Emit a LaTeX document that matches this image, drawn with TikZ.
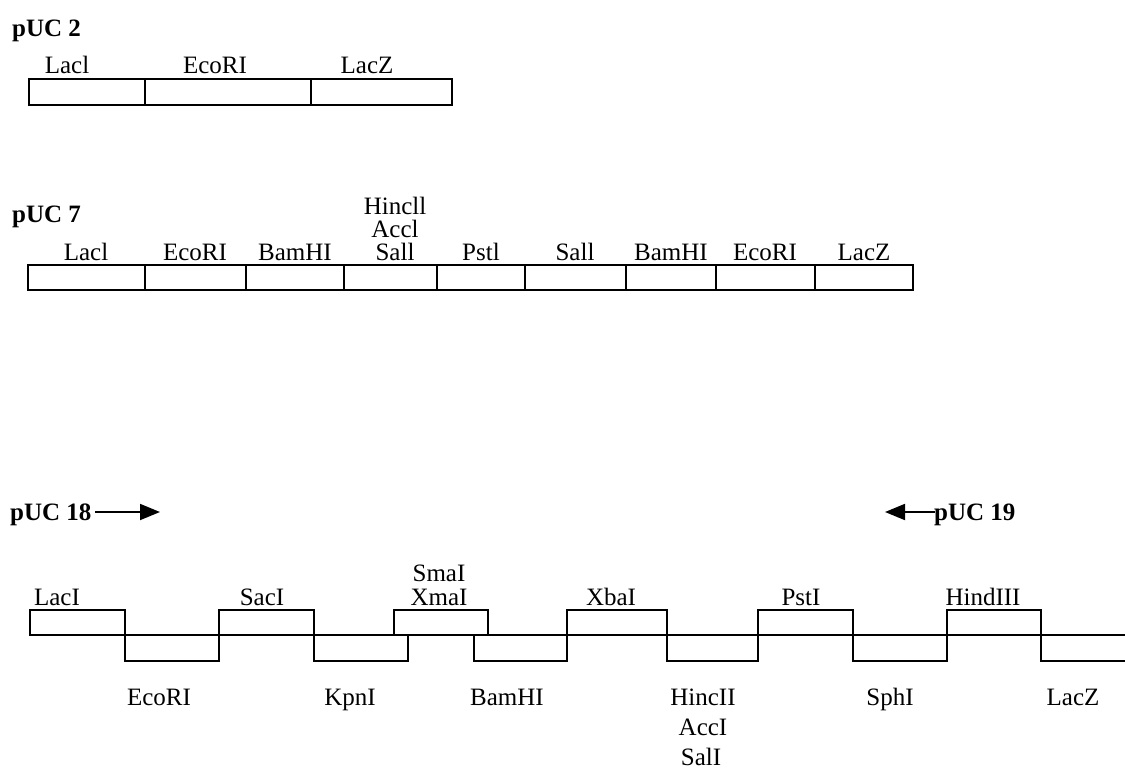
\documentclass[tikz,border=0pt]{standalone}
\usepackage{fontspec}
\setmainfont{Liberation Serif}
\usetikzlibrary{arrows.meta}
\tikzset{
  lab/.style={font=\fontsize{25}{29}\selectfont, anchor=base, inner sep=0pt, text height=17pt, text depth=5pt},
  ttl/.style={font=\fontsize{25}{29}\selectfont\bfseries, anchor=base west, inner sep=0pt},
  seg/.style={draw, line width=1.8pt},
  wave/.style={line width=1.8pt},
  bigarrow/.style={line width=1.8pt, -{Triangle[length=20pt,width=16pt]}}
}
\begin{document}
\begin{tikzpicture}[x=1pt,y=-1pt]
\useasboundingbox (0,0) rectangle (1125,769);
% ---------- pUC 2 ----------
\node[ttl] (t2) at (12,36) {pUC 2};
\draw[seg] (29,79) rectangle (452,105);
\draw[seg] (145,79) -- (145,105);
\draw[seg] (311,79) -- (311,105);
\node[lab] (a1) at (67,73) {Lacl};
\node[lab] (a2) at (215,73) {EcoRI};
\node[lab] (a3) at (367,73) {LacZ};
% ---------- pUC 7 ----------
\node[ttl] (t7) at (12,222) {pUC 7};
\draw[seg] (28,265) rectangle (913,290);
\foreach \x in {145,246,344,437,525,626,716,815} \draw[seg] (\x,265) -- (\x,290);
\node[lab] (b1) at (86,260) {Lacl};
\node[lab] (b2) at (195,260) {EcoRI};
\node[lab] (b3) at (295,260) {BamHI};
\node[lab] (b4c) at (395,260) {Sall};
\node[lab] (b4b) at (395,237) {Accl};
\node[lab] (b4a) at (395,214) {Hincll};
\node[lab] (b5) at (481,260) {Pstl};
\node[lab] (b6) at (575,260) {Sall};
\node[lab] (b7) at (671,260) {BamHI};
\node[lab] (b8) at (765,260) {EcoRI};
\node[lab] (b9) at (864,260) {LacZ};
% ---------- pUC 18 / 19 ----------
\node[ttl] (t18) at (10,520) {pUC 18};
\coordinate (r1) at (95,512);
\coordinate (r2) at (160,512);
\draw[bigarrow] (r1) -- (r2);
\node[ttl] (t19) at (934,520) {pUC 19};
\coordinate (l1) at (935,512);
\coordinate (l2) at (885,512);
\draw[bigarrow] (l1) -- (l2);
% wave
\draw[wave] (30,635) -- (1125,635);
\foreach \a/\b in {30/125,219/314,394/488,567/667,758/853,947/1041}
  \draw[wave] (\a,635) rectangle (\b,610);
\foreach \a/\b in {125/219,314/408,474/567,667/758,853/947}
  \draw[wave] (\a,635) rectangle (\b,661);
\draw[wave] (1041,635) -- (1041,661) -- (1125,661);
% upper labels
\node[lab] (u1) at (57,605) {LacI};
\node[lab] (u2) at (262,605) {SacI};
\node[lab] (u3b) at (439,605) {XmaI};
\node[lab] (u3a) at (439,581) {SmaI};
\node[lab] (u4) at (611,605) {XbaI};
\node[lab] (u5) at (801,605) {PstI};
\node[lab] (u6) at (983,605) {HindIII};
% lower labels
\node[lab] (d1) at (159,705) {EcoRI};
\node[lab] (d2) at (350,705) {KpnI};
\node[lab] (d3) at (507,705) {BamHI};
\node[lab] (d4a) at (703,705) {HincII};
\node[lab] (d4b) at (703,735) {AccI};
\node[lab] (d4c) at (701,765) {SalI};
\node[lab] (d5) at (890,705) {SphI};
\node[lab] (d6) at (1073,705) {LacZ};
\end{tikzpicture}
\end{document}
